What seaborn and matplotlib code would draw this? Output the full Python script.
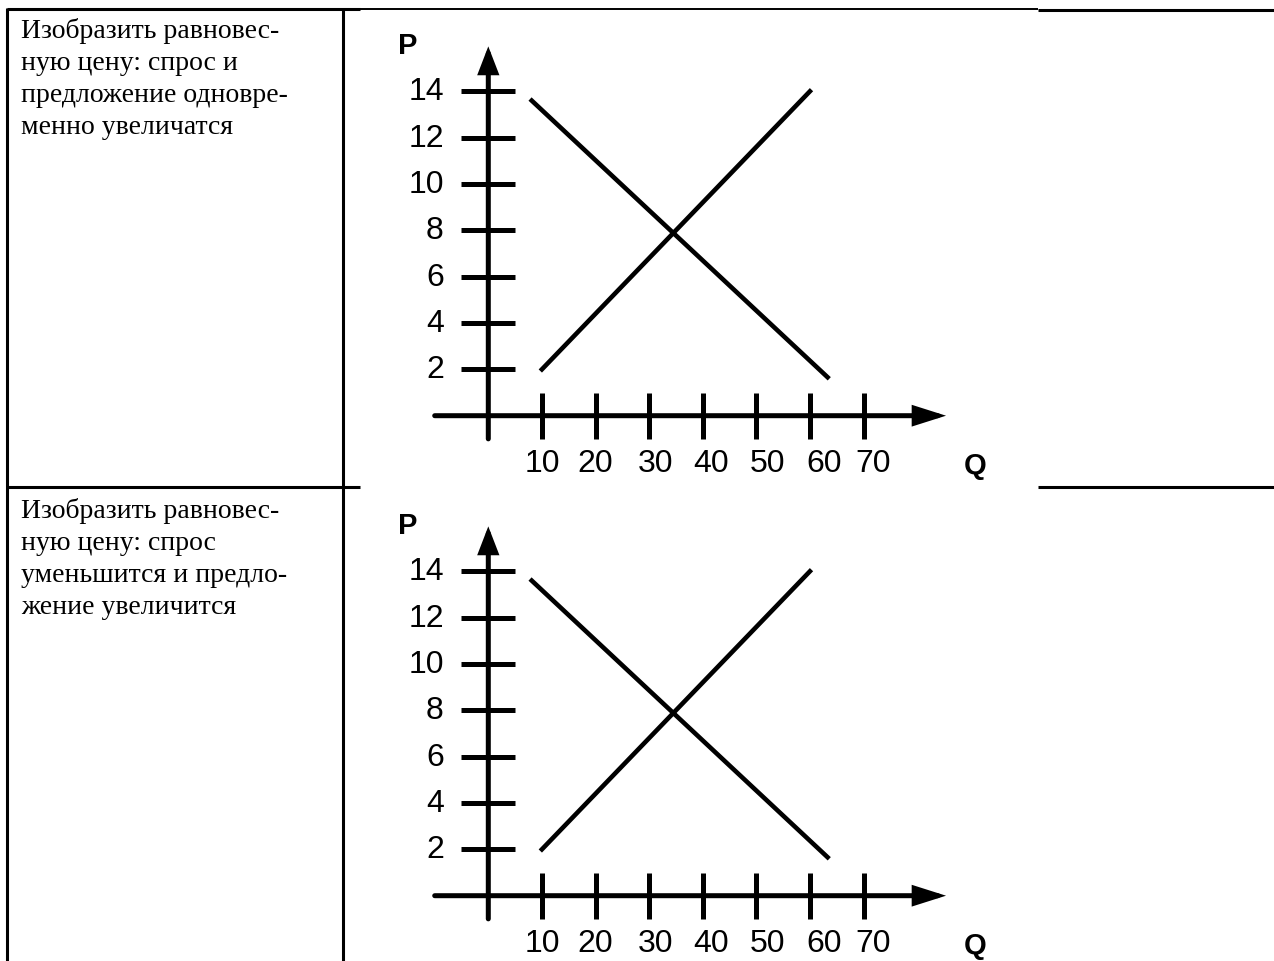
import matplotlib
matplotlib.use("Agg")
import matplotlib.pyplot as plt
import seaborn as sns

# --- data ---
q_ticks = [10, 20, 30, 40, 50, 60, 70]
p_ticks = [2, 4, 6, 8, 10, 12, 14]

demand_q = [8.1, 63.3]
demand_p = [13.6, 1.66]
supply_q = [10, 60]
supply_p = [2, 14]

row_texts = [
    ["Изобразить равновес-", "ную цену: спрос и", "предложение одновре-", "менно увеличатся"],
    ["Изобразить равновес-", "ную цену: спрос", "уменьшится и предло-", "жение увеличится"],
]

# --- layout (pixels of the 1274x962 canvas) ---
W, H = 1274, 962
row_offset = [0, 480]
origin_x, origin_y = 488.3, 416.7      # where Q=0, P=0 lands in the first row
px_per_q, px_per_p = 5.36, 23.17
q_label_nudge = [0, 0, 6, 8, 11, 14, 10]  # px, labels sit a bit right of ticks

sans = ["Liberation Sans", "DejaVu Sans"]
serif = ["Liberation Serif", "DejaVu Serif"]

fig = plt.figure(figsize=(W / 100, H / 100), dpi=100)

# background axes in pixel coords for the table frame and the left column text
bg = fig.add_axes([0, 0, 1, 1])
bg.set_xlim(0, W)
bg.set_ylim(H, 0)
bg.axis("off")

kw = dict(color="black", solid_capstyle="butt")
bg.plot([7, 360], [10, 10], lw=2.2, **kw)
bg.plot([360, 1038], [10, 10], lw=1.4, **kw)
bg.plot([1038, W], [10.5, 10.5], lw=2.2, **kw)
bg.plot([7, 7], [9, H], lw=2.2, **kw)
bg.plot([342.7, 342.7], [9, H], lw=2.2, **kw)
bg.plot([7, 360], [487.7, 487.7], lw=2.2, **kw)
bg.plot([1038, W], [487.7, 487.7], lw=2.2, **kw)

for off, lines in zip(row_offset, row_texts):
    for i, line in enumerate(lines):
        bg.text(21, 38.5 + off + i * 32, line, family=serif, fontsize=20,
                ha="left", va="baseline", color="black")

for off in row_offset:
    left, right, top, bottom = 362, 1036, 14 + off, 484 + off
    ax = fig.add_axes([left / W, 1 - bottom / H, (right - left) / W, (bottom - top) / H])
    oy = origin_y + off
    ax.set_xlim((left - origin_x) / px_per_q, (right - origin_x) / px_per_q)
    ax.set_ylim((oy - bottom) / px_per_p, (oy - top) / px_per_p)
    ax.axis("off")
    ax.patch.set_alpha(0)

    # axes with arrow heads
    ax.annotate("", xy=(85.4, 0), xytext=(-10, 0), annotation_clip=False,
                arrowprops=dict(arrowstyle="-|>,head_length=0.85,head_width=0.27",
                                lw=3.6, color="black", shrinkA=0, shrinkB=0,
                                mutation_scale=20, joinstyle="miter"))
    ax.annotate("", xy=(0, 15.94), xytext=(0, -1), annotation_clip=False,
                arrowprops=dict(arrowstyle="-|>,head_length=0.7,head_width=0.27",
                                lw=3.6, color="black", shrinkA=0, shrinkB=0,
                                mutation_scale=20, joinstyle="miter"))

    # cross ticks
    ax.vlines(q_ticks, -1, 1, color="black", lw=3.6)
    ax.hlines(p_ticks, -5, 5, color="black", lw=3.6)

    # supply and demand
    sns.lineplot(x=demand_q, y=demand_p, ax=ax, color="black", lw=3.3)
    sns.lineplot(x=supply_q, y=supply_p, ax=ax, color="black", lw=3.3)

    for p in p_ticks:
        ax.text(-8.3, p, str(p), family=sans, fontsize=23, ha="right", va="center")
    for q, nud in zip(q_ticks, q_label_nudge):
        ax.text(q + nud / px_per_q, -2.04, str(q), family=sans, fontsize=23,
                ha="center", va="center")

    ax.text((408 - origin_x) / px_per_q, (oy - (46 + off)) / px_per_p, "P",
            family=sans, fontsize=21, fontweight="bold", ha="center", va="center")
    ax.text((975 - origin_x) / px_per_q, (oy - (466 + off)) / px_per_p, "Q",
            family=sans, fontsize=21, fontweight="bold", ha="center", va="center")

fig.savefig("out.png", dpi=100)
